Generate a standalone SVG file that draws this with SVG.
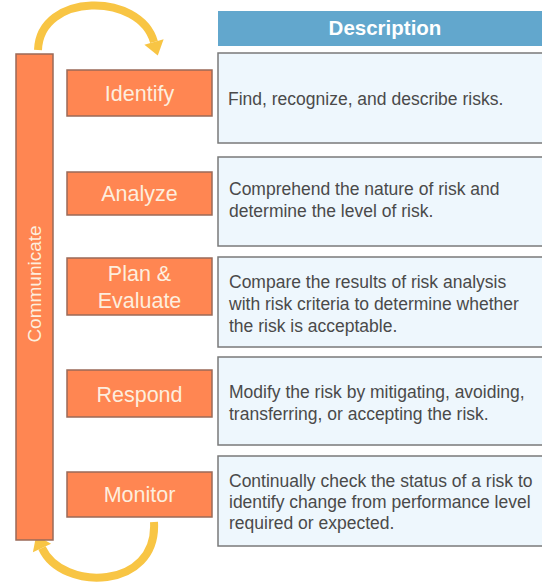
<svg xmlns="http://www.w3.org/2000/svg" width="542" height="583" viewBox="0 0 542 583">
<style>
.step{fill:#ff8652;stroke:#9a6a58;stroke-width:1.5}
.stxt{font-family:"Liberation Sans",Arial,sans-serif;font-size:21.5px;fill:#fdeede;text-anchor:middle}
.desc{fill:#eef7fd;stroke:#7a7a7a;stroke-width:1.5}
.dtxt{font-family:"Liberation Sans",Arial,sans-serif;font-size:17.5px;fill:#4a4a4a}
.arc{fill:none;stroke:#f8c544;stroke-width:8;stroke-linecap:butt}
</style>
<defs>
<marker id="ah" markerUnits="userSpaceOnUse" markerWidth="24" markerHeight="24" refX="4" refY="12" orient="auto" viewBox="0 0 24 24">
<path d="M4,2 L18,12 L4,22 Z" fill="#f8c544"/>
</marker>
</defs>
<rect width="542" height="583" fill="#ffffff"/>
<g id="connectors">
<path class="arc" d="M38,50 C40,-8 140,-8 154,42" marker-end="url(#ah)"/>
<path class="arc" d="M154,522 C158,590 62,592 42,548" marker-end="url(#ah)"/>
</g>
<g id="communicate">
<rect class="step" x="16" y="54" width="37" height="486"/>
<text class="stxt" font-size="19" style="font-size:19px" transform="translate(41,284) rotate(-90)">Communicate</text>
</g>
<g id="header">
<rect x="218" y="11" width="326" height="35" fill="#62a7cd"/>
<text x="385" y="35" font-family="Liberation Sans,Arial,sans-serif" font-size="20.5" font-weight="bold" fill="#ffffff" text-anchor="middle">Description</text>
</g>
<g id="identify">
<rect class="step" x="67" y="70" width="145" height="46"/>
<text class="stxt" x="139.5" y="101">Identify</text>
</g>
<g id="analyze">
<rect class="step" x="67" y="172" width="145" height="43"/>
<text class="stxt" x="139.5" y="201">Analyze</text>
</g>
<g id="plan-evaluate">
<rect class="step" x="67" y="258" width="145" height="57"/>
<text class="stxt" x="139.5" y="281">Plan &amp;</text>
<text class="stxt" x="139.5" y="308">Evaluate</text>
</g>
<g id="respond">
<rect class="step" x="67" y="370" width="145" height="47"/>
<text class="stxt" x="139.5" y="402">Respond</text>
</g>
<g id="monitor">
<rect class="step" x="67" y="472" width="145" height="45"/>
<text class="stxt" x="139.5" y="502">Monitor</text>
</g>
<g id="desc-identify">
<rect class="desc" x="218" y="53" width="330" height="90"/>
<text class="dtxt" x="228" y="105">Find, recognize, and describe risks.</text>
</g>
<g id="desc-analyze">
<rect class="desc" x="218" y="157" width="330" height="89"/>
<text class="dtxt" x="229" y="195">Comprehend the nature of risk and</text>
<text class="dtxt" x="229" y="217">determine the level of risk.</text>
</g>
<g id="desc-plan">
<rect class="desc" x="218" y="257" width="330" height="90"/>
<text class="dtxt" x="229" y="288">Compare the results of risk analysis</text>
<text class="dtxt" x="229" y="310">with risk criteria to determine whether</text>
<text class="dtxt" x="229" y="332">the risk is acceptable.</text>
</g>
<g id="desc-respond">
<rect class="desc" x="218" y="357" width="330" height="88"/>
<text class="dtxt" x="229" y="398">Modify the risk by mitigating, avoiding,</text>
<text class="dtxt" x="229" y="420">transferring, or accepting the risk.</text>
</g>
<g id="desc-monitor">
<rect class="desc" x="218" y="456" width="330" height="90"/>
<text class="dtxt" x="229" y="487">Continually check the status of a risk to</text>
<text class="dtxt" x="229" y="508">identify change from performance level</text>
<text class="dtxt" x="229" y="529">required or expected.</text>
</g>
</svg>
